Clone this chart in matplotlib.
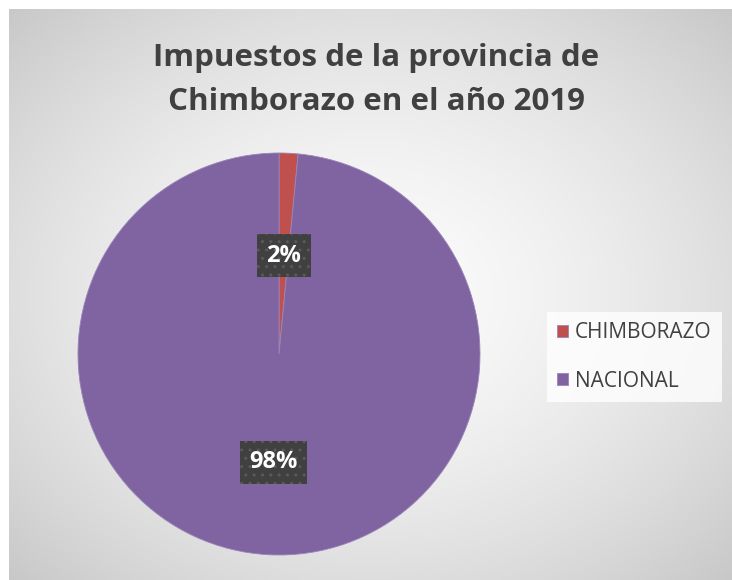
import matplotlib.pyplot as plt
import numpy as np

# datos
categorias = ['CHIMBORAZO', 'NACIONAL']
valores = [1.52, 98.48]
colores = ['#C0504D', '#8064A2']
titulo = 'Impuestos de la provincia de\nChimborazo en el año 2019'

plt.rcParams['font.family'] = ['Open Sans', 'DejaVu Sans']

W, H = 732, 580
fig = plt.figure(figsize=(W / 100, H / 100), dpi=100)
fig.patch.set_facecolor('white')

# fondo con degradado radial
bg = fig.add_axes([9 / W, 0, 1 - 9 / W, 1 - 9 / H])
gx, gy = np.meshgrid(np.linspace(-1, 1, 300), np.linspace(-1, 1, 240))
r = np.sqrt(gx ** 2 + gy ** 2) / np.sqrt(2)
g = 0.985 - 0.2 * r ** 1.6
bg.imshow(np.dstack([g, g, g]), aspect='auto', extent=(0, 1, 0, 1))
bg.set_axis_off()

# pastel
cx, cy, rad = 279, 354, 201
ax = fig.add_axes([(cx - rad) / W, 1 - (cy + rad) / H, 2 * rad / W, 2 * rad / H])
wedges, textos, autotextos = ax.pie(
    valores, colors=colores, startangle=90, counterclock=False,
    autopct='%1.0f%%', pctdistance=0.5,
    wedgeprops=dict(linewidth=0.6, edgecolor='#9a85b8'),
    textprops=dict(color='white', fontsize=17, fontweight='bold'))
ax.set_xlim(-1, 1)
ax.set_ylim(-1, 1)

distancias = [0.49, 0.54]
for w, t, d in zip(wedges, autotextos, distancias):
    ang = np.deg2rad((w.theta1 + w.theta2) / 2)
    t.set_position((d * np.cos(ang), d * np.sin(ang)))
    t.set_bbox(dict(boxstyle='square,pad=0.4', facecolor='#404040',
                    edgecolor='#5a5a5a', linewidth=0, hatch='..'))

fig.text(376 / W, 1 - 80 / H, titulo, ha='center', va='center',
         fontsize=22.5, fontweight='bold', color='#404040', linespacing=1.6)

leg = fig.legend(wedges, categorias, loc='center left',
                 bbox_to_anchor=(547 / W, 1 - 357 / H), frameon=True,
                 fontsize=15, handlelength=0.5, handleheight=0.5,
                 handletextpad=0.35, labelspacing=1.3, borderpad=0.5,
                 borderaxespad=0, fancybox=False)
leg.get_frame().set_facecolor((1, 1, 1, 0.18))
leg.get_frame().set_linewidth(0)
for t in leg.get_texts():
    t.set_color('#404040')

fig.savefig('out.png', dpi=100)
